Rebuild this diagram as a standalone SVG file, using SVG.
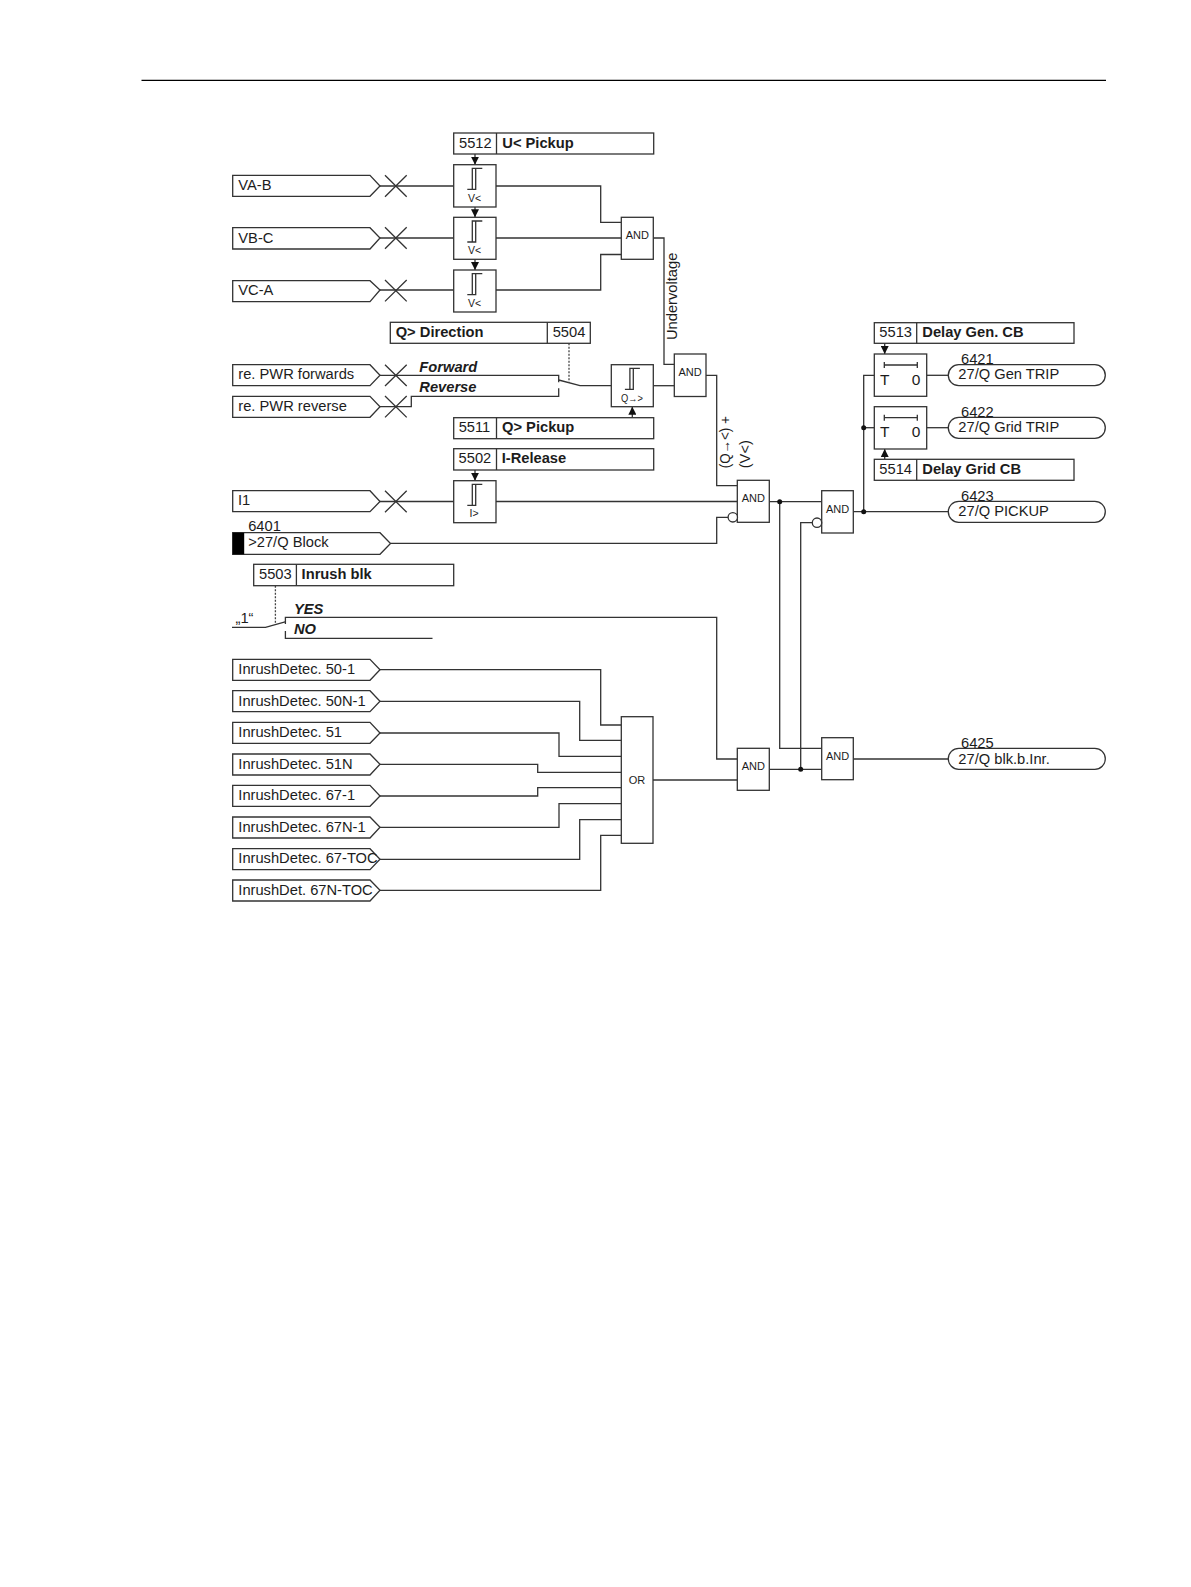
<svg xmlns="http://www.w3.org/2000/svg" xmlns:xlink="http://www.w3.org/1999/xlink" width="1191" height="1587" viewBox="0 0 1191 1587">
<style>
text{font-family:"Liberation Sans",Arial,sans-serif;font-size:14.7px;fill:#1c1c1c}
.b{font-weight:bold}
.i{font-weight:bold;font-style:italic}
.s{font-size:11px;text-anchor:middle}
.v{font-size:10.5px;text-anchor:middle}
.box,.sig{fill:#fff;stroke:#333;stroke-width:1.3}
.w{fill:none;stroke:#333;stroke-width:1.3}
.d{fill:none;stroke:#444;stroke-width:1.3;stroke-dasharray:2 1.5}
.dot{fill:#111}
</style>
<defs>
<marker id="ah" markerUnits="userSpaceOnUse" markerWidth="8" markerHeight="8" viewBox="0 0 8 8" refX="8" refY="4" orient="auto"><path d="M0 0L8 4L0 8Z" fill="#111"/></marker>
<path id="hys" class="w" d="M13.6 24.7H22V3.700H18.6V24.7M18.6 3.700H28.6"/>
<path id="tbar" class="w" d="M10 11V17M10 14H43M43 11V17"/>
</defs>
<rect width="1191" height="1587" fill="#fff"/>
<path d="M141.500 80.300H1106" stroke="#000" stroke-width="1.200" fill="none"/>

<g id="connectors">
<path class="w" d="M380 186H453.700M496 186H600.700V222.300H621.300"/>
<path class="w" d="M380 238H453.700M496 238H621.300"/>
<path class="w" d="M380 290H453.700M496 290H600.700V254.500H621.300"/>
<path class="w" d="M653.300 238H664V364.300H674.300"/>
<path class="w" d="M380 375.300H558.700V382.300"/>
<path class="w" d="M380 406.700H411.300V396.300H558.700V388.300"/>
<path class="w" d="M558.700 380L580 385.700H611.300"/>
<path class="d" d="M569 343.300V383"/>
<path class="w" d="M653.300 385.700H674.300"/>
<path class="w" d="M706 375.300H716.700V485.700H737.300"/>
<path class="w" d="M380 501.500H453.700M496 501.500H737.300"/>
<path class="w" d="M390.500 543.300H716.700V517.300H728"/>
<path class="d" d="M275.400 585.700V624.300"/>
<path class="w" d="M232 627.300H265.500L286 621.700"/>
<path class="w" d="M285.400 624V617.300H716.700V759H737.300"/>
<path class="w" d="M285.400 631V638.300H432.500"/>
<path class="w" d="M380 669.700H600.700V725H621.300"/>
<path class="w" d="M380 701.300H579.700V740.300H621.300"/>
<path class="w" d="M380 733H559V756.300H621.300"/>
<path class="w" d="M380 764.300H537.700V772.300H621.300"/>
<path class="w" d="M380 796H537.700V787.700H621.300"/>
<path class="w" d="M380 827.300H559V803.700H621.300"/>
<path class="w" d="M380 859.300H579.700V819.700H621.300"/>
<path class="w" d="M380 890.300H600.700V835.300H621.300"/>
<path class="w" d="M653 780H737.300"/>
<path class="w" d="M769.300 501.700H821.700"/>
<path class="w" d="M779.700 501.700V748.300H821.700"/>
<path class="w" d="M769.300 769.300H821.700"/>
<path class="w" d="M800.700 769.300V522.700H812.300"/>
<path class="w" d="M853.300 511.700H948.300"/>
<path class="w" d="M863.700 511.700V375.300H874.300"/>
<path class="w" d="M863.700 427.700H874.300"/>
<path class="w" d="M926.700 375.300H948.300"/>
<path class="w" d="M926.700 427.700H948.300"/>
<path class="w" d="M853.300 759H948.300"/>
<path class="w" d="M475 154V164.700" marker-end="url(#ah)"/>
<path class="w" d="M475 207V217.300" marker-end="url(#ah)"/>
<path class="w" d="M475 259.300V270" marker-end="url(#ah)"/>
<path class="w" d="M632.300 417.700V406.700" marker-end="url(#ah)"/>
<path class="w" d="M475 470V480.700" marker-end="url(#ah)"/>
<path class="w" d="M884.700 343.300V354" marker-end="url(#ah)"/>
<path class="w" d="M884.700 459.300V449" marker-end="url(#ah)"/>
<circle class="dot" cx="779.700" cy="501.700" r="2.500"/>
<circle class="dot" cx="800.700" cy="769.300" r="2.500"/>
<circle class="dot" cx="863.700" cy="511.700" r="2.500"/>
<circle class="dot" cx="863.700" cy="427.700" r="2.500"/>
</g>

<g id="in-va-b"><path class="sig" d="M232.700 175.300H370L380 186L370 196.300H232.700Z"/><text x="238.300" y="190">VA-B</text><path class="w" d="M385 175.300L406.700 196.700M385 196.700L406.700 175.300"/></g>
<g id="in-vb-c"><path class="sig" d="M232.700 227.700H370L380 238L370 249H232.700Z"/><text x="238.300" y="242.700">VB-C</text><path class="w" d="M385 227.300L406.700 248.700M385 248.700L406.700 227.300"/></g>
<g id="in-vc-a"><path class="sig" d="M232.700 280.700H370L380 290L370 301.700H232.700Z"/><text x="238.300" y="295">VC-A</text><path class="w" d="M385 280L406.700 301.400M385 301.400L406.700 280"/></g>
<g id="in-fwd"><path class="sig" d="M232.700 364.700H370L380 375.300L370 385.700H232.700Z"/><text x="238.300" y="379.300">re. PWR forwards</text><path class="w" d="M385 364.700L406.700 386M385 386L406.700 364.700"/></g>
<g id="in-rev"><path class="sig" d="M232.700 396.300H370L380 406.700L370 417.300H232.700Z"/><text x="238.300" y="411">re. PWR reverse</text><path class="w" d="M385 396L406.700 417.400M385 417.400L406.700 396"/></g>
<g id="in-i1"><path class="sig" d="M232.700 490.700H370L380 501.500L370 511.700H232.700Z"/><text x="238" y="505.300">I1</text><path class="w" d="M385 490.700L406.700 512.300M385 512.300L406.700 490.700"/></g>
<g id="in-block"><path class="sig" d="M232.700 532.700H380L390.500 543.500L380 554.300H232.700Z"/><rect x="232.700" y="532.700" width="11.500" height="21.600" fill="#000"/><text x="248.200" y="531.300">6401</text><text x="248.200" y="547.300">&gt;27/Q Block</text></g>

<g id="set-5512"><rect class="box" x="453.700" y="133" width="200" height="21"/><path class="w" d="M496.500 133V154"/><text x="459" y="148">5512</text><text class="b" x="502.300" y="148">U&lt; Pickup</text></g>
<g id="set-5504"><rect class="box" x="390.300" y="322.300" width="200" height="21"/><path class="w" d="M547.300 322.300V343.300"/><text class="b" x="395.700" y="337.300">Q&gt; Direction</text><text x="552.700" y="337.300">5504</text></g>
<g id="set-5511"><rect class="box" x="453.700" y="417.700" width="200" height="21"/><path class="w" d="M496.500 417.700V438.700"/><text x="458.700" y="432.300">5511</text><text class="b" x="502" y="432.300">Q&gt; Pickup</text></g>
<g id="set-5502"><rect class="box" x="453.700" y="448.700" width="200" height="21.300"/><path class="w" d="M496.500 448.700V470"/><text x="458.600" y="463.300">5502</text><text class="b" x="501.700" y="463.300">I-Release</text></g>
<g id="set-5503"><rect class="box" x="253.700" y="564.300" width="200" height="21.400"/><path class="w" d="M296.400 564.300V585.700"/><text x="259" y="579.300">5503</text><text class="b" x="301.600" y="579.300">Inrush blk</text></g>
<g id="set-5513"><rect class="box" x="874.300" y="322.700" width="199.700" height="20.600"/><path class="w" d="M916.700 322.700V343.300"/><text x="879.300" y="337.300">5513</text><text class="b" x="922.300" y="337.300">Delay Gen. CB</text></g>
<g id="set-5514"><rect class="box" x="874.300" y="459.300" width="199.700" height="21"/><path class="w" d="M916.700 459.300V480.300"/><text x="879.300" y="474.300">5514</text><text class="b" x="922.300" y="474.300">Delay Grid CB</text></g>

<g id="thr-1"><rect class="box" x="453.700" y="164.700" width="42.300" height="42.300"/><use xlink:href="#hys" href="#hys" x="453.700" y="164.700"/><text class="v" x="474.500" y="201.700">V&lt;</text></g>
<g id="thr-2"><rect class="box" x="453.700" y="217.300" width="42.300" height="42"/><use xlink:href="#hys" href="#hys" x="453.700" y="217.300"/><text class="v" x="474.500" y="254">V&lt;</text></g>
<g id="thr-3"><rect class="box" x="453.700" y="270" width="42.300" height="42"/><use xlink:href="#hys" href="#hys" x="453.700" y="270"/><text class="v" x="474.500" y="306.700">V&lt;</text></g>
<g id="thr-q"><rect class="box" x="611.300" y="364.700" width="42" height="42"/><use xlink:href="#hys" href="#hys" x="611.300" y="364.700"/><text class="v" x="632" y="401.700" textLength="22" lengthAdjust="spacingAndGlyphs">Q→&gt;</text></g>
<g id="thr-i"><rect class="box" x="453.700" y="480.700" width="42.300" height="42"/><use xlink:href="#hys" href="#hys" x="453.700" y="480.700"/><text class="v" x="474" y="516.700">I&gt;</text></g>

<g id="and-1"><rect class="box" x="621.300" y="217.300" width="32" height="42"/><text class="s" x="637.300" y="239">AND</text></g>
<g id="and-2"><rect class="box" x="674.300" y="354" width="31.700" height="42.500"/><text class="s" x="690" y="376">AND</text></g>
<g id="and-3"><rect class="box" x="737.300" y="480.300" width="32" height="42"/><circle class="box" cx="732.800" cy="517.300" r="4.700"/><text class="s" x="753.300" y="502.300">AND</text></g>
<g id="and-4"><rect class="box" x="821.700" y="490.700" width="31.600" height="42.300"/><circle class="box" cx="817" cy="522.700" r="4.700"/><text class="s" x="837.500" y="512.700">AND</text></g>
<g id="and-5"><rect class="box" x="737.300" y="748.300" width="32" height="42"/><text class="s" x="753.300" y="770.300">AND</text></g>
<g id="and-6"><rect class="box" x="821.700" y="737.700" width="31.600" height="42"/><text class="s" x="837.500" y="759.700">AND</text></g>
<g id="or-1"><rect class="box" x="621.300" y="716.700" width="31.700" height="126.600"/><text class="s" x="637" y="783.700">OR</text></g>

<g id="timer-1"><rect class="box" x="874.300" y="354" width="52.400" height="42.300"/><use xlink:href="#tbar" href="#tbar" x="874.300" y="351"/><text x="880" y="385" style="font-size:15.500px">T</text><text x="911.700" y="385" style="font-size:15.500px">0</text></g>
<g id="timer-2"><rect class="box" x="874.300" y="406.700" width="52.400" height="42.300"/><use xlink:href="#tbar" href="#tbar" x="874.300" y="403.700"/><text x="880" y="437.300" style="font-size:15.500px">T</text><text x="911.700" y="437.300" style="font-size:15.500px">0</text></g>

<g id="out-6421"><rect class="box" x="948.300" y="364.700" width="157" height="21" rx="10.500"/><text x="961" y="363.800">6421</text><text x="958.300" y="379.300">27/Q Gen TRIP</text></g>
<g id="out-6422"><rect class="box" x="948.300" y="417.300" width="157" height="21" rx="10.500"/><text x="961" y="416.500">6422</text><text x="958.300" y="432">27/Q Grid TRIP</text></g>
<g id="out-6423"><rect class="box" x="948.300" y="501.300" width="157" height="21" rx="10.500"/><text x="961" y="500.800">6423</text><text x="958.300" y="516">27/Q PICKUP</text></g>
<g id="out-6425"><rect class="box" x="948.300" y="748.300" width="157" height="21" rx="10.500"/><text x="961" y="747.800">6425</text><text x="958.300" y="763.700">27/Q blk.b.Inr.</text></g>

<g id="in-1"><path class="sig" d="M232.700 659.300H370L380 669.700L370 680.300H232.700Z"/><text x="238.300" y="674">InrushDetec. 50-1</text></g>
<g id="in-2"><path class="sig" d="M232.700 690.700H370L380 701.300L370 711.700H232.700Z"/><text x="238.300" y="705.700">InrushDetec. 50N-1</text></g>
<g id="in-3"><path class="sig" d="M232.700 722.300H370L380 733L370 743.300H232.700Z"/><text x="238.300" y="737.300">InrushDetec. 51</text></g>
<g id="in-4"><path class="sig" d="M232.700 754H370L380 764.300L370 775H232.700Z"/><text x="238.300" y="768.700">InrushDetec. 51N</text></g>
<g id="in-5"><path class="sig" d="M232.700 785.300H370L380 796L370 806.300H232.700Z"/><text x="238.300" y="800.300">InrushDetec. 67-1</text></g>
<g id="in-6"><path class="sig" d="M232.700 817H370L380 827.300L370 838H232.700Z"/><text x="238.300" y="832">InrushDetec. 67N-1</text></g>
<g id="in-7"><path class="sig" d="M232.700 848.700H370L380 859.300L370 869.700H232.700Z"/><text x="238.300" y="863.300">InrushDetec. 67-TOC</text></g>
<g id="in-8"><path class="sig" d="M232.700 880H370L380 890.300L370 901H232.700Z"/><text x="238.300" y="894.700">InrushDet. 67N-TOC</text></g>

<g id="labels">
<text class="i" x="419.300" y="372.300">Forward</text>
<text class="i" x="419.300" y="392.300">Reverse</text>
<text class="i" x="294" y="614">YES</text>
<text class="i" x="294" y="634">NO</text>
<text x="235.500" y="622.700">„1“</text>
<text transform="translate(677.300 340) rotate(-90)">Undervoltage</text>
<text transform="translate(730 468.300) rotate(-90)" textLength="52" lengthAdjust="spacingAndGlyphs">(Q→&lt;) +</text>
<text transform="translate(750 468.300) rotate(-90)">(V&lt;)</text>
</g>
</svg>
